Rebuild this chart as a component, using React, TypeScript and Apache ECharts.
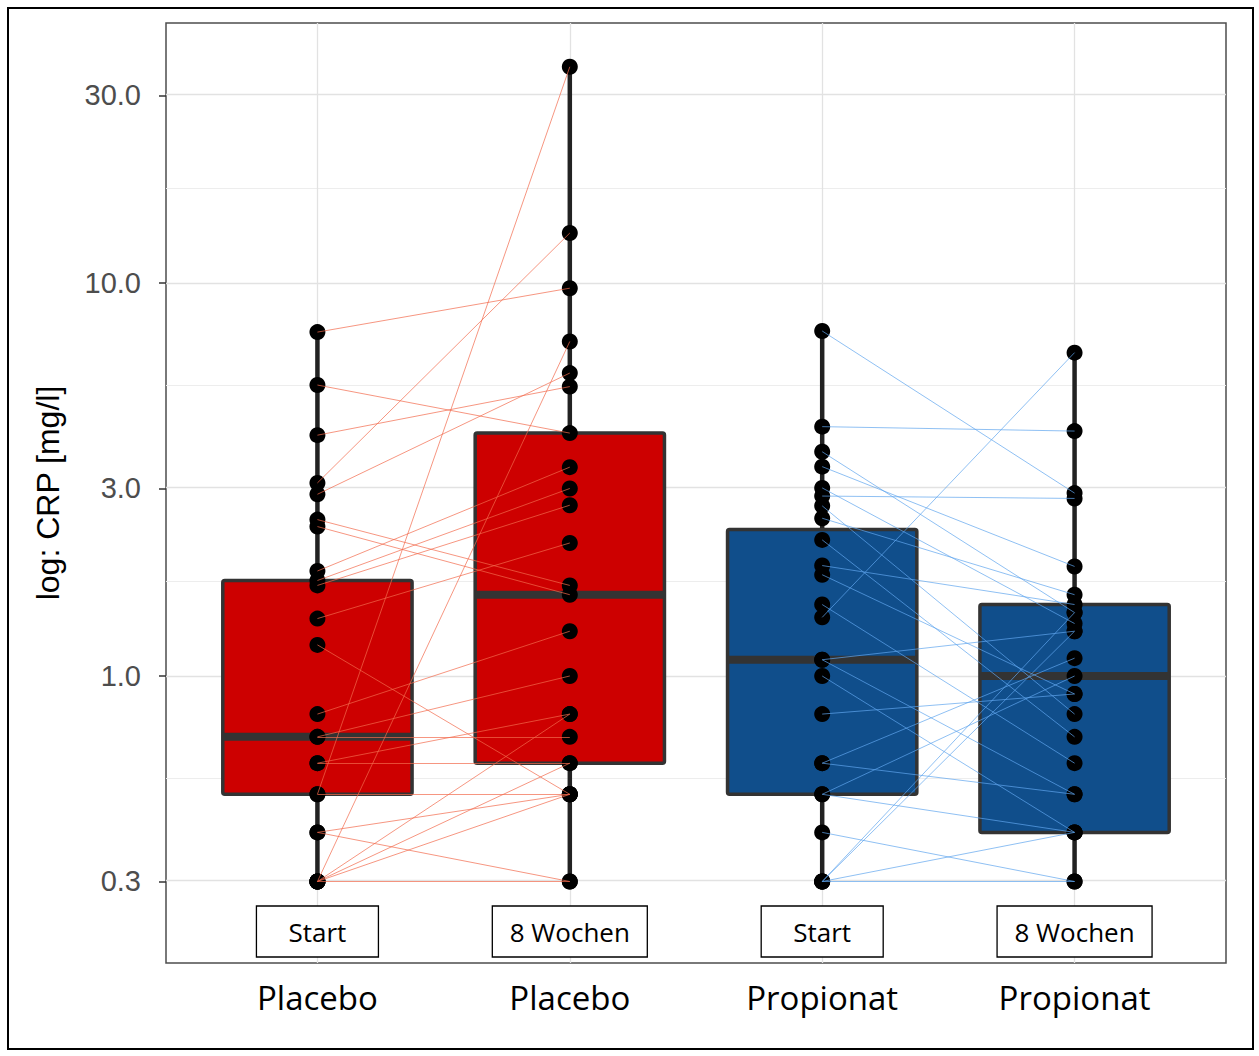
import React, { useEffect, useRef } from 'react';
import * as echarts from 'echarts';

// Column labels (group on the axis, time point inside the panel)
const groups = ['Placebo', 'Placebo', 'Propionat', 'Propionat'];
const stages = ['Start', '8 Wochen', 'Start', '8 Wochen'];

// y axis breaks (mg/l, log scale)
const yTicks = [0.3, 1, 3, 10, 30];

// Box summaries per column: [min, Q1, median, Q3, max] in mg/l
const boxPlaceboStart = [0.3, 0.5, 0.7, 1.75, 7.5];
const boxPlaceboWeek8 = [0.3, 0.6, 1.61, 4.15, 35.5];
const boxPropionatStart = [0.3, 0.5, 1.1, 2.36, 7.55];
const boxPropionatWeek8 = [0.3, 0.4, 1.0, 1.52, 6.65];

// Paired CRP values per subject (Start, 8 Wochen)
const placeboStart = [7.5, 5.5, 4.1, 3.1, 2.9, 2.5, 2.4, 1.85, 1.75, 1.7, 1.4, 1.2, 0.8, 0.7, 0.7, 0.6, 0.6, 0.5, 0.5, 0.4, 0.4, 0.3, 0.3, 0.3, 0.3, 0.3];
const placeboWeek8 = [9.7, 4.15, 5.45, 13.4, 5.9, 1.7, 1.61, 3.4, 3.0, 2.72, 2.18, 0.5, 1.3, 1.0, 0.7, 0.6, 0.8, 0.5, 35.5, 0.5, 0.3, 0.3, 0.5, 0.8, 7.1, 0.6];
const propionatStart = [7.55, 4.31, 3.72, 3.41, 3.01, 2.87, 2.71, 2.52, 2.22, 1.91, 1.81, 1.52, 1.41, 1.1, 1.1, 1.0, 0.8, 0.6, 0.6, 0.5, 0.5, 0.4, 0.3, 0.3, 0.3, 0.3];
const propionatWeek8 = [2.92, 4.2, 1.45, 1.9, 1.36, 2.83, 0.8, 1.61, 0.7, 1.52, 0.9, 0.6, 6.65, 1.3, 0.5, 0.4, 0.9, 1.11, 0.5, 1.0, 0.4, 0.3, 0.3, 0.4, 1.3, 1.45];

const boxFill = ['#CD0000', '#CD0000', '#104E8B', '#104E8B'];
const pairColor = ['rgba(242, 105, 75, 0.7)', 'rgba(95, 165, 238, 0.7)'];
const labelBoxWidth: Record<string, number> = { Start: 122, '8 Wochen': 155 };

const lg = (v: number) => Math.log10(v);
const Y_MIN = -0.7303;
const Y_MAX = 1.6616;

export default function App() {
  const ref = useRef<HTMLDivElement>(null);

  useEffect(() => {
    if (!ref.current) return;
    const chart = echarts.init(ref.current, undefined, { renderer: 'svg' });

    const boxes = [boxPlaceboStart, boxPlaceboWeek8, boxPropionatStart, boxPropionatWeek8].map((b, i) => [
      i + 1,
      ...b.map(lg),
    ]);

    const points: number[][] = [];
    placeboStart.forEach((v) => points.push([1, lg(v)]));
    placeboWeek8.forEach((v) => points.push([2, lg(v)]));
    propionatStart.forEach((v) => points.push([3, lg(v)]));
    propionatWeek8.forEach((v) => points.push([4, lg(v)]));

    const placeboPairs = placeboStart.map((s, i) => ({ coords: [[1, lg(s)], [2, lg(placeboWeek8[i])]] }));
    const propionatPairs = propionatStart.map((s, i) => ({ coords: [[3, lg(s)], [4, lg(propionatWeek8[i])]] }));

    const majorY = yTicks.map(lg);
    const minorY = majorY.slice(1).map((v, i) => (v + majorY[i]) / 2);
    const gridLines = [
      ...minorY.map((v) => ({ yAxis: v, lineStyle: { color: '#EDEDED', width: 1 } })),
      ...majorY.map((v) => ({ yAxis: v, lineStyle: { color: '#E2E2E2', width: 1.3 } })),
      ...[1, 2, 3, 4].map((v) => ({ xAxis: v, lineStyle: { color: '#E2E2E2', width: 1.3 } })),
    ];

    chart.setOption({
      animation: false,
      backgroundColor: '#FFFFFF',
      graphic: [
        {
          type: 'rect',
          shape: { x: 8, y: 8, width: 1245, height: 1041 },
          style: { fill: 'none', stroke: '#000', lineWidth: 2 },
          silent: true,
        },
      ],
      grid: {
        left: 166,
        top: 23,
        width: 1060,
        height: 940,
        show: true,
        borderColor: '#4D4D4D',
        borderWidth: 1.5,
        backgroundColor: 'transparent',
      },
      xAxis: {
        type: 'value',
        min: 0.4,
        max: 4.6,
        axisLine: { show: false },
        splitLine: { show: false },
        axisTick: { show: true, customValues: [1, 2, 3, 4], length: 7, lineStyle: { color: '#333', width: 1.5 } },
        axisLabel: {
          customValues: [1, 2, 3, 4],
          formatter: (v: number) => groups[Math.round(v) - 1] ?? '',
          fontSize: 33,
          fontFamily: 'Open Sans',
          color: '#000',
          margin: 18,
        },
      },
      yAxis: {
        type: 'value',
        min: Y_MIN,
        max: Y_MAX,
        name: 'log: CRP [mg/l]',
        nameLocation: 'middle',
        nameRotate: 90,
        nameGap: 102,
        nameTextStyle: { fontSize: 32, fontFamily: 'Liberation Sans', color: '#000' },
        axisLine: { show: false },
        splitLine: { show: false },
        axisTick: { show: true, customValues: majorY, length: 7, lineStyle: { color: '#333', width: 1.5 } },
        axisLabel: {
          customValues: majorY,
          formatter: (v: number) => Math.pow(10, v).toFixed(1),
          fontSize: 29,
          fontFamily: 'Liberation Sans',
          color: '#4D4D4D',
          margin: 25,
        },
      },
      series: [
        {
          type: 'line',
          data: [],
          z: 0,
          silent: true,
          markLine: {
            z: 0,
            silent: true,
            symbol: 'none',
            label: { show: false },
            lineStyle: { type: 'solid' },
            data: gridLines,
          },
        },
        {
          type: 'custom',
          z: 2,
          silent: true,
          data: boxes,
          renderItem: (params: any, api: any) => {
            const x = api.value(0);
            const vals = [1, 2, 3, 4, 5].map((d) => api.coord([x, api.value(d)]));
            const [pMin, pQ1, pMd, pQ3, pMax] = vals;
            const cx = pMin[0];
            const w = api.size([0.75, 0])[0];
            const whisker = { stroke: '#222', lineWidth: 4.5 };
            return {
              type: 'group',
              children: [
                { type: 'line', shape: { x1: cx, y1: pMax[1], x2: cx, y2: pQ3[1] }, style: whisker },
                { type: 'line', shape: { x1: cx, y1: pQ1[1], x2: cx, y2: pMin[1] }, style: whisker },
                {
                  type: 'rect',
                  shape: { x: cx - w / 2, y: pQ3[1], width: w, height: pQ1[1] - pQ3[1], r: 2 },
                  style: { fill: boxFill[params.dataIndex], stroke: '#333', lineWidth: 3.5 },
                },
                {
                  type: 'line',
                  shape: { x1: cx - w / 2, y1: pMd[1], x2: cx + w / 2, y2: pMd[1] },
                  style: { stroke: '#333', lineWidth: 8 },
                },
              ],
            };
          },
        },
        {
          type: 'scatter',
          z: 3,
          silent: true,
          symbol: 'circle',
          symbolSize: 16,
          itemStyle: { color: '#000', opacity: 1 },
          data: points,
        },
        {
          type: 'lines',
          coordinateSystem: 'cartesian2d',
          z: 4,
          silent: true,
          lineStyle: { color: pairColor[0], width: 1, opacity: 1 },
          data: placeboPairs,
        },
        {
          type: 'lines',
          coordinateSystem: 'cartesian2d',
          z: 4,
          silent: true,
          lineStyle: { color: pairColor[1], width: 1, opacity: 1 },
          data: propionatPairs,
        },
        {
          type: 'custom',
          z: 5,
          silent: true,
          data: stages.map((s, i) => [i + 1, Y_MIN]),
          renderItem: (params: any, api: any) => {
            const p = api.coord([api.value(0), api.value(1)]);
            const text = stages[params.dataIndex];
            const w = labelBoxWidth[text];
            const h = 51;
            const cy = p[1] - 6 - h / 2;
            return {
              type: 'group',
              children: [
                {
                  type: 'rect',
                  shape: { x: p[0] - w / 2, y: cy - h / 2, width: w, height: h },
                  style: { fill: '#FFFFFF', stroke: '#000', lineWidth: 1.3 },
                },
                {
                  type: 'text',
                  style: {
                    text,
                    x: p[0],
                    y: cy,
                    align: 'center',
                    verticalAlign: 'middle',
                    fontSize: 26,
                    fontFamily: 'Open Sans',
                    fill: '#000',
                  },
                },
              ],
            };
          },
        },
      ],
    });

    return () => chart.dispose();
  }, []);

  return (
    <div
      ref={ref}
      style={{ position: 'fixed', left: 0, top: 0, width: 1259, height: 1056, background: '#fff' }}
    />
  );
}
